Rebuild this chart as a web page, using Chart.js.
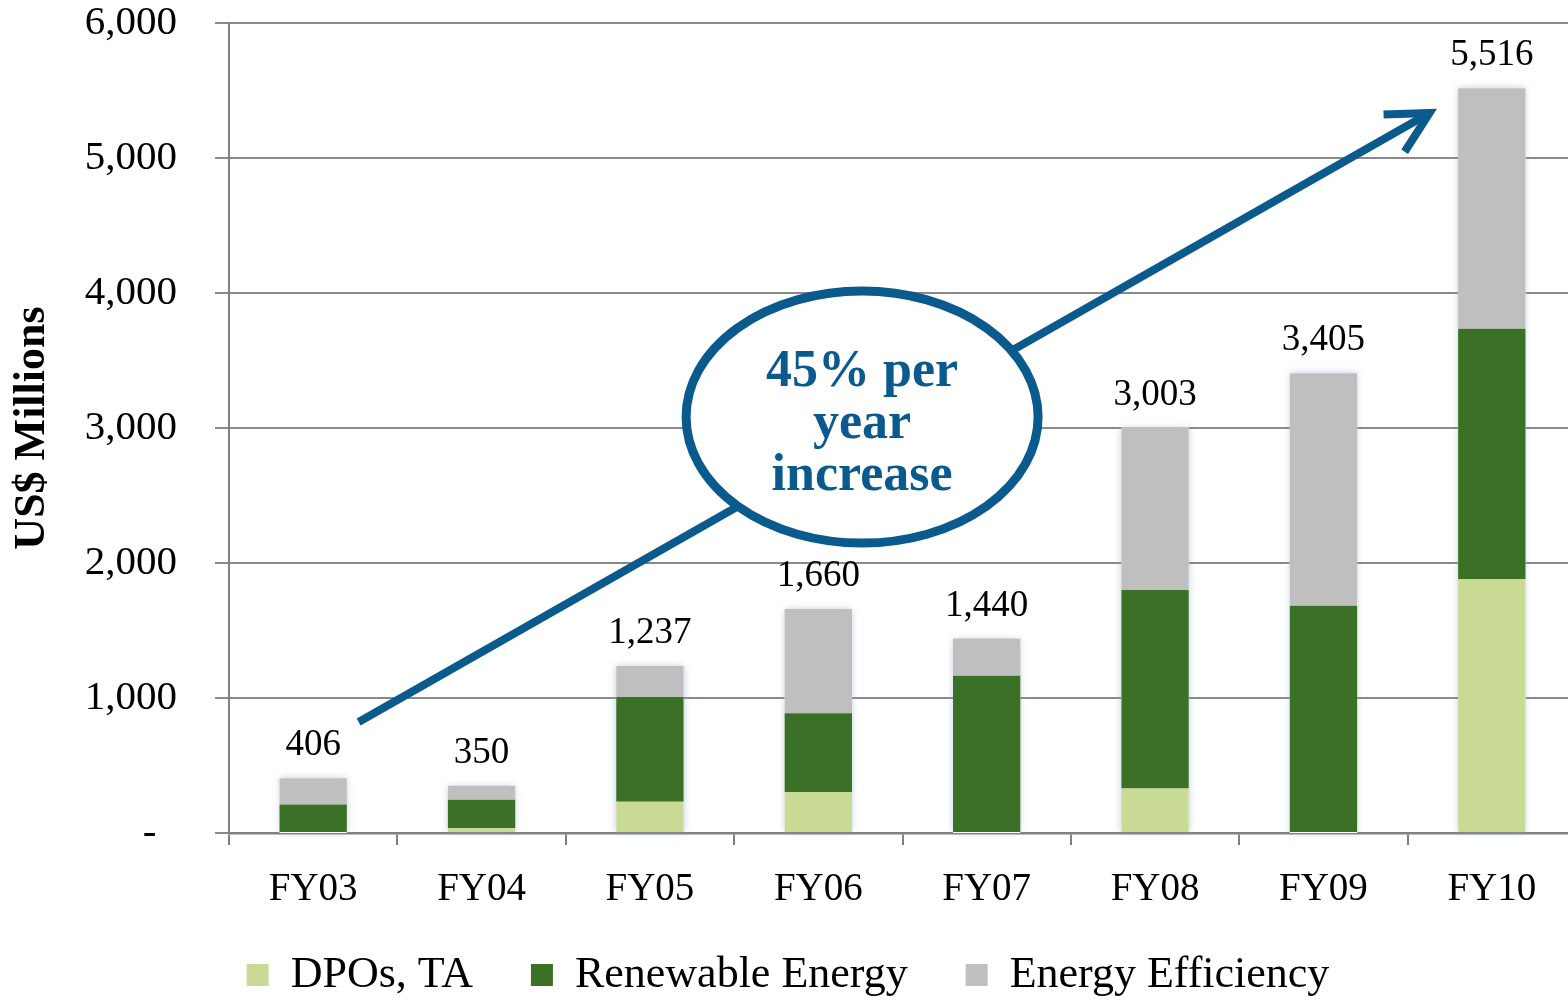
<!DOCTYPE html>
<html>
<head>
<meta charset="utf-8">
<script src="https://cdn.jsdelivr.net/npm/chart.js@4.4.1/dist/chart.umd.min.js"></script>
<style>
  html, body { margin: 0; padding: 0; background: #ffffff; overflow: hidden; }
  #wrap { width: 1576px; height: 1000px; }
</style>
</head>
<body>
<div id="wrap"><canvas id="c" width="1576" height="1000"></canvas></div>
<script>
// Fiscal years
const years = ['FY03', 'FY04', 'FY05', 'FY06', 'FY07', 'FY08', 'FY09', 'FY10'];
// Commitments by segment, US$ millions
const dpoTa      = [0,   35,  232,  301,    0,  329,    0, 1879];
const renewable  = [212, 212, 775,  586, 1165, 1471, 1684, 1857];
const efficiency = [194, 103, 230,  773,  275, 1203, 1721, 1780];
// Value axis ticks
const yTickValues = [0, 1000, 2000, 3000, 4000, 5000, 6000];
// Callout text
const calloutLines = ['45% per', 'year', 'increase'];

const SERIF = '"Liberation Serif", "Times New Roman", serif';
const BLUE = '#0b5a8e';

// Soft halo behind each full stack
const stackGlow = {
  id: 'stackGlow',
  beforeDatasetsDraw(chart) {
    const { ctx } = chart;
    const metas = chart.getSortedVisibleDatasetMetas();
    ctx.save();
    ctx.shadowColor = 'rgba(140,165,195,0.55)';
    ctx.shadowBlur = 7;
    ctx.fillStyle = '#ffffff';
    chart.data.labels.forEach((_, i) => {
      let top = Infinity, bottom = -Infinity, left = 0, right = 0;
      metas.forEach(m => {
        const r = m.data[i].getProps(['x', 'y', 'base', 'width'], true);
        top = Math.min(top, r.y, r.base);
        bottom = Math.max(bottom, r.y, r.base);
        left = r.x - r.width / 2;
        right = r.x + r.width / 2;
      });
      ctx.fillRect(left, top, right - left, bottom - top);
    });
    ctx.restore();
  }
};

// Stack totals, growth arrow and callout bubble
const totalsAndTrend = {
  id: 'totalsAndTrend',
  afterDatasetsDraw(chart, args, opts) {
    const { ctx, scales: { x, y } } = chart;
    ctx.save();

    // totals above each stack
    ctx.font = '37px ' + SERIF;
    ctx.fillStyle = '#000000';
    ctx.textAlign = 'center';
    ctx.textBaseline = 'alphabetic';
    years.forEach((_, i) => {
      const total = dpoTa[i] + renewable[i] + efficiency[i];
      ctx.fillText(total.toLocaleString('en-US'), x.getPixelForValue(i), y.getPixelForValue(total) - 23);
    });

    // trend arrow
    const x0 = x.getPixelForValue(opts.from[0]), y0 = y.getPixelForValue(opts.from[1]);
    const x1 = x.getPixelForValue(opts.to[0]),   y1 = y.getPixelForValue(opts.to[1]);
    const ang = Math.atan2(y1 - y0, x1 - x0);
    ctx.strokeStyle = BLUE;
    ctx.lineWidth = 8;
    ctx.lineCap = 'butt';
    ctx.lineJoin = 'miter';
    ctx.beginPath();
    ctx.moveTo(x0, y0);
    ctx.lineTo(x1 - 6 * Math.cos(ang), y1 - 6 * Math.sin(ang));
    ctx.stroke();
    const head = 46, spread = Math.PI / 6.5;
    ctx.beginPath();
    ctx.moveTo(x1 - head * Math.cos(ang - spread), y1 - head * Math.sin(ang - spread));
    ctx.lineTo(x1, y1);
    ctx.lineTo(x1 - head * Math.cos(ang + spread), y1 - head * Math.sin(ang + spread));
    ctx.stroke();

    // callout ellipse
    const cx = x.getPixelForValue(opts.center[0]), cy = y.getPixelForValue(opts.center[1]);
    ctx.beginPath();
    ctx.ellipse(cx, cy, 176, 126, 0, 0, Math.PI * 2);
    ctx.fillStyle = '#ffffff';
    ctx.fill();
    ctx.lineWidth = 9;
    ctx.strokeStyle = BLUE;
    ctx.stroke();

    ctx.fillStyle = BLUE;
    ctx.font = 'bold 52px ' + SERIF;
    ctx.textAlign = 'center';
    ctx.textBaseline = 'alphabetic';
    const offsets = [-31, 21, 73];
    calloutLines.forEach((t, k) => ctx.fillText(t, cx, cy + offsets[k]));

    ctx.restore();
  }
};

new Chart(document.getElementById('c'), {
  type: 'bar',
  data: {
    labels: years,
    datasets: [
      { label: 'DPOs, TA',          data: dpoTa,      backgroundColor: '#c9da95' },
      { label: 'Renewable Energy',  data: renewable,  backgroundColor: '#3b7127' },
      { label: 'Energy Efficiency', data: efficiency, backgroundColor: '#bfbfbf' }
    ]
  },
  plugins: [stackGlow, totalsAndTrend],
  options: {
    responsive: false,
    animation: false,
    devicePixelRatio: 1,
    layout: { padding: { left: 0, right: 0, top: 0, bottom: -7 } },
    datasets: { bar: { barPercentage: 0.4, categoryPercentage: 1.0, borderWidth: 0 } },
    plugins: {
      tooltip: { enabled: false },
      legend: {
        position: 'bottom',
        labels: {
          boxWidth: 22, boxHeight: 22, padding: 14,
          color: '#000000',
          font: { family: SERIF, size: 44 },
          // widen the gap between entries with a trailing em space
          generateLabels(chart) {
            const items = Chart.defaults.plugins.legend.labels.generateLabels(chart);
            items.forEach((it, i) => { if (i < items.length - 1) it.text += '\u2003'; });
            return items;
          }
        }
      },
      totalsAndTrend: {
        from: [0.27, 822],
        to: [6.63, 5333],
        center: [3.26, 3081]
      }
    },
    scales: {
      x: {
        stacked: true,
        offset: true,
        grid: { offset: true, drawOnChartArea: false, drawTicks: true, tickLength: 12, color: '#808080', lineWidth: 2 },
        border: { color: '#808080', width: 2.5 },
        ticks: { color: '#000000', padding: 21, font: { family: SERIF, size: 39 } },
        afterFit(s) { s.height = 106; }
      },
      y: {
        stacked: true,
        min: 0,
        max: 6000,
        afterBuildTicks(s) { s.ticks = yTickValues.map(v => ({ value: v })); },
        ticks: {
          color: '#000000',
          padding: 38,
          font: { family: SERIF, size: 41 },
          callback: v => (v === 0 ? '-  ' : Number(v).toLocaleString('en-US'))
        },
        grid: { color: '#8a8a8a', lineWidth: 2, tickLength: 14 },
        border: { color: '#808080', width: 2 },
        title: {
          display: true,
          text: 'US$ Millions',
          color: '#000000',
          font: { family: SERIF, size: 44, weight: 'bold' },
          padding: { top: 6, bottom: 0 }
        },
        afterFit(s) {
          s.width = 229;
          s.paddingTop = 23;
          s.paddingBottom = 23;
        }
      }
    }
  }
});
</script>
</body>
</html>
